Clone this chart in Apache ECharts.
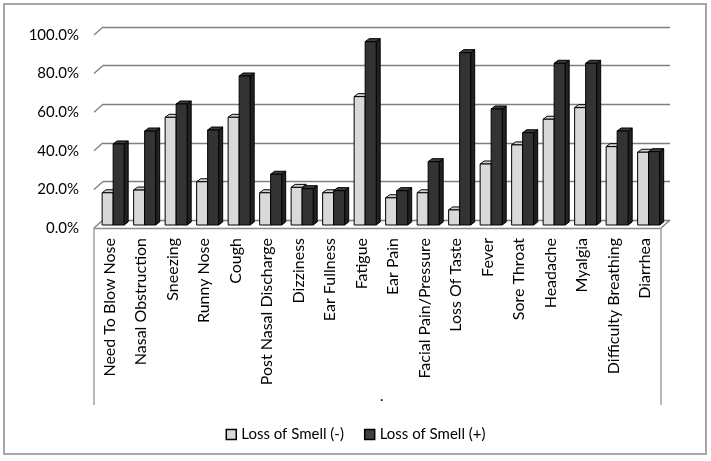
<!DOCTYPE html>
<html>
<head>
<meta charset="utf-8">
<script src="https://cdn.jsdelivr.net/npm/echarts@6/dist/echarts.min.js"></script>
<style>html,body{margin:0;padding:0;background:#fff}#c{width:711px;height:461px}</style>
</head>
<body>
<div id="c"></div>
<script>
const categories = ['Need To Blow Nose','Nasal Obstruction','Sneezing','Runny Nose','Cough','Post Nasal Discharge','Dizziness','Ear Fullness','Fatigue','Ear Pain','Facial Pain/Pressure','Loss Of Taste','Fever','Sore Throat','Headache','Myalgia','Difficulty Breathing','Diarrhea'];
const smellNeg = [16.7,18.1,55.8,22.4,55.8,16.7,19.5,16.7,66.5,14.1,16.7,7.8,31.6,41.5,54.8,60.8,40.6,37.7];
const smellPos = [42.0,48.7,62.7,49.2,77.2,26.3,18.8,17.8,95.0,17.8,32.8,89.3,60.1,47.8,83.8,83.8,48.7,38.0];
const seriesNames = ['Loss of Smell (-)','Loss of Smell (+)'];
const yTicks = [0,20,40,60,80,100];

const FONT = 'Lato';
const DEPTH = [9,-8];      // back wall offset
const BDEPTH = [4,-3];     // bar depth offset
const GRID_W = 567, GRID_H = 193;

const chart = echarts.init(document.getElementById('c'));

function barRender(seriesIdx, fillFront, fillTop, fillSide){
  return function(params, api){
    const i = api.value(0), v = api.value(1);
    const top = api.coord([i, v]);
    const base = api.coord([i, 0]);
    const band = api.size([1,0])[0];
    const w = band*0.35;
    const x0 = seriesIdx === 0 ? top[0]-w : top[0];
    const x1 = x0 + w;
    const yT = top[1], yB = base[1];
    const dx = BDEPTH[0], dy = BDEPTH[1];
    const st = {stroke:'#000', lineWidth:1};
    return {type:'group', children:[
      {type:'polygon', shape:{points:[[x1,yB],[x1+dx,yB+dy],[x1+dx,yT+dy],[x1,yT]]}, style:Object.assign({fill:fillSide}, st)},
      {type:'polygon', shape:{points:[[x0,yT],[x0+dx,yT+dy],[x1+dx,yT+dy],[x1,yT]]}, style:Object.assign({fill:fillTop}, st)},
      {type:'rect', shape:{x:x0, y:yT, width:w, height:yB-yT}, style:Object.assign({fill:fillFront}, st)}
    ]};
  };
}

function decorRender(params, api){
  const v = api.value(0);
  const band = api.size([1,0])[0];
  const left = api.coord([0, v]);
  const xl = left[0] - band/2;
  const y = left[1];
  const ls = {stroke:'#7f7f7f', lineWidth:1.3};
  const children = [
    {type:'line', shape:{x1:xl, y1:y, x2:xl+DEPTH[0], y2:y+DEPTH[1]}, style:ls}
  ];
  if (v === 0) {
    const right = api.coord([categories.length-1, 0]);
    const xr = right[0] + band/2;
    children.push({type:'line', shape:{x1:xr, y1:y, x2:xr+DEPTH[0], y2:y+DEPTH[1]}, style:ls});
    const bs = {stroke:'#a0a0a0', lineWidth:1.5};
    children.push({type:'line', shape:{x1:xl, y1:y, x2:xl, y2:y+177}, style:bs});
    children.push({type:'line', shape:{x1:xr, y1:y, x2:xr, y2:y+177}, style:bs});
  }
  return {type:'group', children};
}

const option = {
  animation:false,
  backgroundColor:'#fff',
  textStyle:{fontFamily:FONT},
  graphic:[{type:'rect', shape:{x:4, y:4, width:702, height:450}, style:{fill:'none', stroke:'#a6a6a6', lineWidth:2}, silent:true}],
  title:{text:'.', left:375, top:384, textStyle:{fontSize:15, fontWeight:'normal', color:'#000', fontFamily:FONT}},
  legend:{
    data:[
      {name:seriesNames[0], itemStyle:{color:'#d9d9d9', borderColor:'#000', borderWidth:1.5}},
      {name:seriesNames[1], itemStyle:{color:'#404040', borderColor:'#000', borderWidth:1.5}}
    ],
    icon:'rect', itemWidth:10, itemHeight:10, itemGap:20,
    left:'center', top:422,
    textStyle:{fontSize:15, color:'#000', fontFamily:FONT}
  },
  grid:[
    {left:94, top:35, width:GRID_W, height:GRID_H},
    {left:94+DEPTH[0], top:35+DEPTH[1], width:GRID_W, height:GRID_H},
    {left:94+3.4, top:32, width:GRID_W, height:GRID_H}
  ],
  xAxis:[
    {type:'category', gridIndex:0, data:categories, boundaryGap:true,
     axisLine:{show:true, lineStyle:{color:'#8c8c8c', width:1.3}}, axisTick:{show:false},
     axisLabel:{rotate:90, interval:0, margin:10, fontSize:16, color:'#000', fontFamily:FONT}},
    {type:'category', gridIndex:1, data:categories, show:false},
    {type:'category', gridIndex:2, data:categories, show:false}
  ],
  yAxis:[
    {type:'value', gridIndex:0, min:0, max:100, interval:20,
     axisLine:{show:false}, axisTick:{show:false}, splitLine:{show:false},
     axisLabel:{formatter:v=>v.toFixed(1)+'%', fontSize:15, color:'#000', margin:15, fontFamily:FONT}},
    {type:'value', gridIndex:1, min:0, max:100, interval:20,
     axisLine:{show:false}, axisTick:{show:false}, axisLabel:{show:false},
     splitLine:{show:true, lineStyle:{color:'#7f7f7f', width:1.3}}},
    {type:'value', gridIndex:2, min:0, max:100, interval:20, show:false}
  ],
  series:[
    {type:'custom', name:'decor', xAxisIndex:0, yAxisIndex:0, clip:false, silent:true,
     data:yTicks.map(v=>[v]), encode:{y:0}, renderItem:decorRender, z:1},
    {type:'custom', name:seriesNames[0], xAxisIndex:2, yAxisIndex:2, clip:false,
     itemStyle:{color:'#d9d9d9'},
     data:smellNeg.map((v,i)=>[i,v]), encode:{x:0,y:1},
     renderItem:barRender(0,'#d9d9d9','#d0d0d0','#b0b0b0'), z:3},
    {type:'custom', name:seriesNames[1], xAxisIndex:2, yAxisIndex:2, clip:false,
     itemStyle:{color:'#404040'},
     data:smellPos.map((v,i)=>[i,v]), encode:{x:0,y:1},
     renderItem:barRender(1,'#333333','#3c3c3c','#222222'), z:4}
  ]
};
chart.setOption(option);
</script>
</body>
</html>
